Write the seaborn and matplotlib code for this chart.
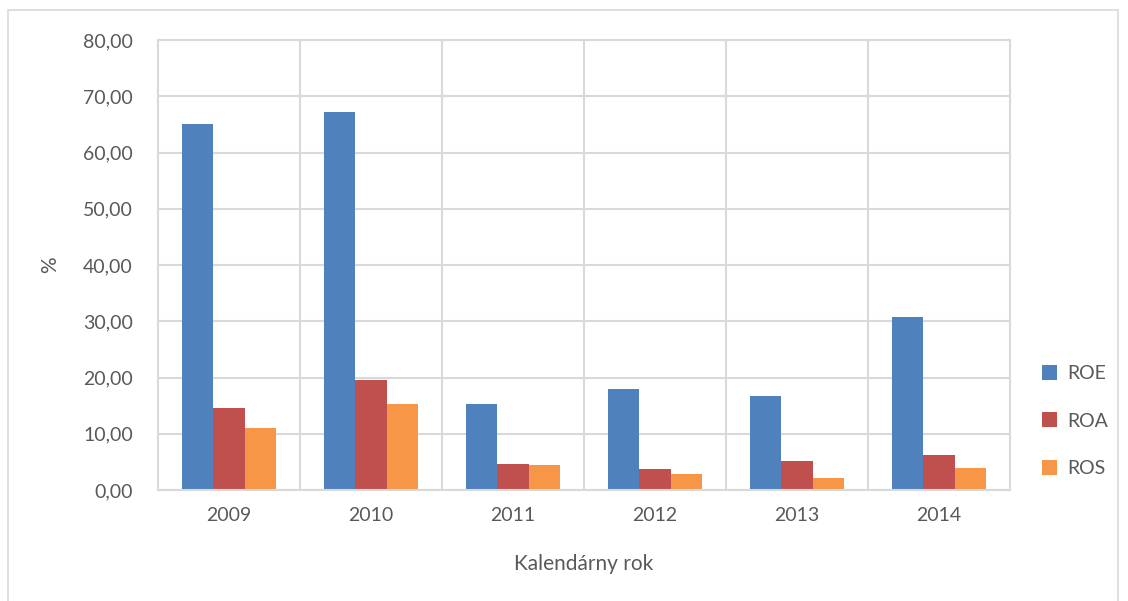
import matplotlib
matplotlib.use("Agg")
import matplotlib.pyplot as plt
import seaborn as sns
import pandas as pd
from matplotlib.patches import Rectangle, Patch
from matplotlib.ticker import FuncFormatter, MultipleLocator

years = ["2009", "2010", "2011", "2012", "2013", "2014"]
roe = [65.07, 67.15, 15.37, 17.92, 16.67, 30.67]
roa = [14.66, 19.64, 4.70, 3.68, 5.10, 6.30]
ros = [10.98, 15.37, 4.46, 2.91, 2.08, 3.98]
series = ["ROE", "ROA", "ROS"]
colors = ["#4F81BD", "#C0504D", "#F79646"]

df = pd.DataFrame({
    "rok": years * 3,
    "hodnota": roe + roa + ros,
    "ukazovatel": [s for s in series for _ in years],
})

sns.set_style("white")
plt.rcParams["font.family"] = ["Lato", "DejaVu Sans"]
text_color = "#595959"
grid_color = "#D9D9D9"

fig = plt.figure(figsize=(11.28, 6.01), dpi=100)
ax = fig.add_axes([158/1128, 1-490/601, (1010-158)/1128, (490-40)/601])

sns.barplot(data=df, x="rok", y="hodnota", hue="ukazovatel", palette=colors,
            hue_order=series, order=years, width=0.665, gap=0, ax=ax,
            saturation=1, legend=False, edgecolor="none")

ax.set_ylim(0, 80)
ax.set_xlim(-0.5, 5.5)
ax.yaxis.set_major_locator(MultipleLocator(10))
ax.yaxis.set_major_formatter(FuncFormatter(lambda v, p: f"{v:.2f}".replace(".", ",")))
ax.set_axisbelow(True)
ax.grid(axis="y", color=grid_color, linewidth=1.5)
for xv in [0.5, 1.5, 2.5, 3.5, 4.5]:
    ax.axvline(xv, color=grid_color, linewidth=1.5, zorder=0)
for s in ax.spines.values():
    s.set_color(grid_color)
    s.set_linewidth(1.5)
ax.tick_params(axis="both", length=0, labelsize=14, colors=text_color)
ax.tick_params(axis="y", pad=18)
ax.tick_params(axis="x", pad=12)
ax.set_xlabel("Kalendárny rok", fontsize=15, color=text_color, labelpad=22)
ax.set_ylabel("%", fontsize=15, color=text_color)
ax.yaxis.set_label_coords((60-158)/852, 0.5)

handles = [Patch(facecolor=c, edgecolor="none") for c in colors]
fig.legend(handles, series, loc="center left", bbox_to_anchor=(1024/1128, 1-421/601),
           frameon=False, fontsize=14, handlelength=0.8, handleheight=0.8,
           handletextpad=0.5, labelspacing=1.55, labelcolor=text_color)

fig.patches.append(Rectangle((8/1128, -0.05), (1118-8)/1128, 1.05 - 10/601,
                             transform=fig.transFigure, fill=False,
                             edgecolor=grid_color, linewidth=1.2))

fig.savefig("out.png", dpi=100, facecolor="white")
